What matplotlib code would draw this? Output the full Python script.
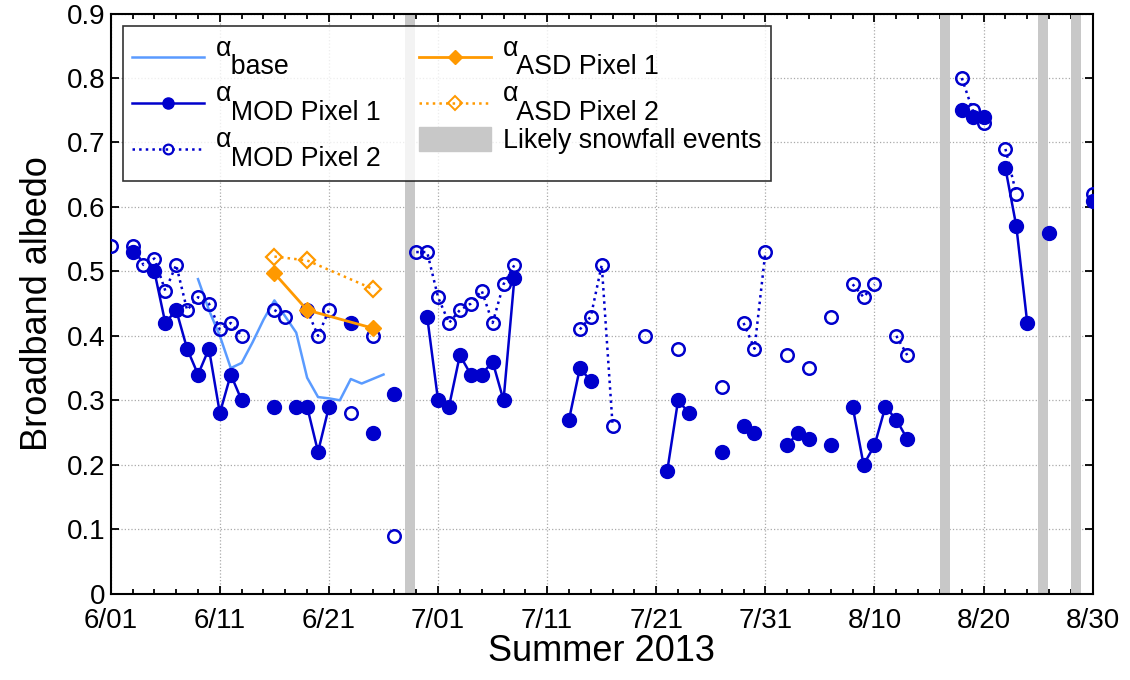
import numpy as np
import matplotlib.pyplot as plt
from matplotlib.patches import Patch

# --- data: day index since 6/01 (2013) ---
mod1_days = [2, 4, 5, 6, 7, 8, 9, 10, 11, 12, 15, 17, 18, 19, 20, 22, 24, 26,
             29, 30, 31, 32, 33, 34, 35, 36, 37, 42, 43, 44, 51, 52, 53, 56,
             58, 59, 62, 63, 64, 66, 68, 69, 70, 71, 72, 73, 78, 79, 80, 82,
             83, 84, 86, 90]
mod1_vals = [0.53, 0.50, 0.42, 0.44, 0.38, 0.34, 0.38, 0.28, 0.34, 0.30, 0.29,
             0.29, 0.29, 0.22, 0.29, 0.42, 0.25, 0.31, 0.43, 0.30, 0.29, 0.37,
             0.34, 0.34, 0.36, 0.30, 0.49, 0.27, 0.35, 0.33, 0.19, 0.30, 0.28,
             0.22, 0.26, 0.25, 0.23, 0.25, 0.24, 0.23, 0.29, 0.20, 0.23, 0.29,
             0.27, 0.24, 0.75, 0.74, 0.74, 0.66, 0.57, 0.42, 0.56, 0.61]

mod2_days = [0, 2, 3, 4, 5, 6, 7, 8, 9, 10, 11, 12, 15, 16, 18, 19, 20, 22, 24,
             26, 28, 29, 30, 31, 32, 33, 34, 35, 36, 37, 43, 44, 45, 46, 49, 52,
             56, 58, 59, 60, 62, 64, 66, 68, 69, 70, 72, 73, 78, 79, 80, 82, 83,
             90]
mod2_vals = [0.54, 0.54, 0.51, 0.52, 0.47, 0.51, 0.44, 0.46, 0.45, 0.41, 0.42,
             0.40, 0.44, 0.43, 0.44, 0.40, 0.44, 0.28, 0.40, 0.09, 0.53, 0.53,
             0.46, 0.42, 0.44, 0.45, 0.47, 0.42, 0.48, 0.51, 0.41, 0.43, 0.51,
             0.26, 0.40, 0.38, 0.32, 0.42, 0.38, 0.53, 0.37, 0.35, 0.43, 0.48,
             0.46, 0.48, 0.40, 0.37, 0.80, 0.75, 0.73, 0.69, 0.62, 0.62]

base_days = list(range(8, 26))
base_vals = [0.488, 0.44, 0.40, 0.35, 0.358, 0.39, 0.425, 0.455, 0.43, 0.405,
             0.335, 0.305, 0.303, 0.30, 0.333, 0.326, 0.333, 0.34]

asd_days = [15, 18, 24]
asd1_vals = [0.497, 0.44, 0.412]
asd2_vals = [0.523, 0.517, 0.473]

snow_days = [27, 76, 85, 88]

tick_days = [0, 10, 20, 30, 40, 50, 60, 70, 80, 90]
tick_labels = ['6/01', '6/11', '6/21', '7/01', '7/11', '7/21', '7/31',
               '8/10', '8/20', '8/30']

plt.rcParams['font.family'] = ['Liberation Sans', 'DejaVu Sans']

blue = '#0000CC'
light = '#5A9BFF'
orange = '#FF9900'
gray = '#C8C8C8'

# daily series, missing days as NaN so lines break like the original
n_days = 91
days = np.arange(n_days)
mod1 = np.full(n_days, np.nan)
mod1[mod1_days] = mod1_vals
mod2 = np.full(n_days, np.nan)
mod2[mod2_days] = mod2_vals

fig = plt.figure(figsize=(11.3, 6.8), dpi=100)
ax = fig.add_axes([0.098, 0.127, 0.869, 0.853])

for d in snow_days:
    ax.axvspan(d, d + 0.9, color=gray, lw=0, zorder=1)

ax.plot(base_days, base_vals, color=light, lw=1.8, zorder=3)
ax.plot(days, mod1, color=blue, lw=1.8, marker='o', ms=10, mfc=blue, mec=blue, zorder=4)
ax.plot(days, mod2, color=blue, lw=1.8, ls=':', marker='o', ms=9, mfc='none',
        mec=blue, mew=1.8, zorder=5)
ax.plot(asd_days, asd2_vals, color=orange, lw=1.8, ls=':', marker='D', ms=8,
        mfc='none', mec=orange, mew=1.6, zorder=6)
ax.plot(asd_days, asd1_vals, color=orange, lw=2.0, marker='D', ms=8, mfc=orange,
        mec=orange, zorder=6)

ax.set_xlim(0, 90)
ax.set_ylim(0, 0.9)
ax.set_xticks(tick_days)
ax.set_xticklabels(tick_labels)
ax.set_xticks(np.arange(0, 91, 2), minor=True)
ax.set_yticks(np.arange(0, 0.91, 0.1))
ax.set_yticklabels(['0'] + ['%.1f' % v for v in np.arange(0.1, 0.91, 0.1)])
ax.tick_params(which='both', direction='in', top=True, right=True, labelsize=20, width=1.3)
ax.tick_params(which='major', length=6)
ax.tick_params(which='minor', length=3.5)
ax.tick_params(axis='x', pad=10)
ax.tick_params(axis='y', pad=4)
for s in ax.spines.values():
    s.set_linewidth(1.5)
ax.grid(True, which='major', ls=':', color='#AAAAAA', lw=0.9, zorder=0)
ax.set_axisbelow(True)

ax.set_xlabel('Summer 2013', fontsize=26, labelpad=0)
ax.set_ylabel('Broadband albedo', fontsize=26, labelpad=8)

h_base, = ax.plot([], [], color=light, lw=1.8)
h_m1, = ax.plot([], [], color=blue, lw=1.8, marker='o', ms=8, mfc=blue, mec=blue)
h_m2, = ax.plot([], [], color=blue, lw=1.8, ls=':', marker='o', ms=7, mfc='none', mec=blue, mew=1.6)
h_a1, = ax.plot([], [], color=orange, lw=2.0, marker='D', ms=7, mfc=orange, mec=orange)
h_a2, = ax.plot([], [], color=orange, lw=1.8, ls=':', marker='D', ms=7, mfc='none', mec=orange, mew=1.4)
h_snow = Patch(color=gray)

# alpha raised above a full-size subscript, as in the original legend
handles = [h_base, h_m1, h_m2, h_a1, h_a2, h_snow]
labels = ['α\n  base', 'α\n  MOD Pixel 1', 'α\n  MOD Pixel 2',
          'α\n  ASD Pixel 1', 'α\n  ASD Pixel 2', 'Likely snowfall events']
leg = ax.legend(handles, labels, loc='upper left', bbox_to_anchor=(0.012, 0.978),
                borderaxespad=0, ncol=2, fontsize=19.3, frameon=True, fancybox=False,
                edgecolor='black', handlelength=2.7, handleheight=1.0,
                columnspacing=1.4, labelspacing=0.05, borderpad=0.35,
                handletextpad=0.45)
for t in leg.get_texts()[:5]:
    t.set_linespacing(0.62)
leg.get_frame().set_linewidth(1.2)
leg.set_zorder(10)

fig.savefig('out.png', dpi=100)
